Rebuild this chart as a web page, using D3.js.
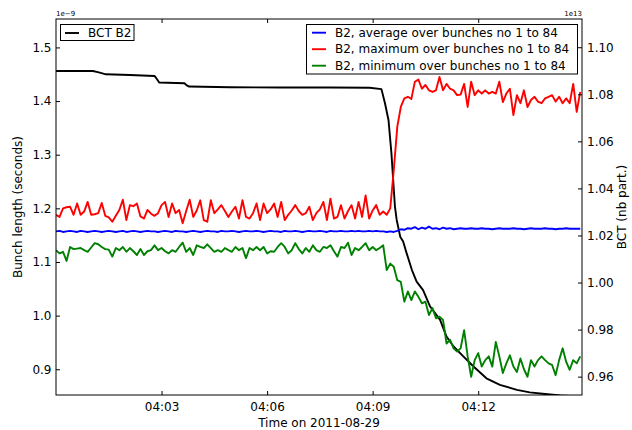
<!DOCTYPE html>
<html><head><meta charset="utf-8">
<script src="https://cdn.jsdelivr.net/npm/d3@7"></script>
<style>body{margin:0;background:#fff} text{font-family:"DejaVu Sans",sans-serif}</style>
</head><body><svg id="c" width="632" height="430"></svg>
<script>
// ---------------- data ----------------
const startTime = "2011-08-29 04:00:00";
const sampleStepSeconds = 6;
const seriesNames = [
  "B2, average over bunches no 1 to 84",
  "B2, maximum over bunches no 1 to 84",
  "B2, minimum over bunches no 1 to 84"
];
const bctName = "BCT B2";
// bunch length values, units of 1e-9 s
const avgValues = [
 1.157,1.158,1.156,1.157,1.158,1.157,1.156,1.158,1.157,1.156,
 1.157,1.158,1.157,1.156,1.157,1.158,1.157,1.156,1.157,1.158,
 1.156,1.157,1.158,1.157,1.156,1.157,1.158,1.157,1.157,1.156,
 1.157,1.158,1.157,1.156,1.158,1.157,1.157,1.156,1.157,1.158,
 1.157,1.156,1.157,1.158,1.157,1.157,1.156,1.158,1.157,1.157,
 1.158,1.157,1.156,1.157,1.158,1.157,1.157,1.158,1.157,1.156,
 1.157,1.158,1.157,1.157,1.156,1.158,1.157,1.157,1.158,1.157,
 1.156,1.157,1.158,1.157,1.157,1.158,1.157,1.156,1.158,1.157,
 1.157,1.158,1.157,1.157,1.158,1.157,1.158,1.157,1.157,1.158,
 1.157,1.158,1.157,1.157,1.156,1.157,1.156,1.158,1.161,1.160,
 1.163,1.162,1.165,1.161,1.164,1.162,1.166,1.162,1.163,1.161,
 1.164,1.162,1.163,1.161,1.162,1.163,1.162,1.162,1.163,1.162,
 1.162,1.163,1.162,1.162,1.161,1.162,1.163,1.162,1.162,1.162,
 1.163,1.162,1.162,1.161,1.162,1.163,1.162,1.162,1.162,1.163,
 1.162,1.162,1.161,1.162,1.162,1.163,1.162,1.162,1.162,1.162
];
const maxValues = [
 1.188,1.184,1.200,1.202,1.203,1.188,1.209,1.188,1.194,1.212,
 1.188,1.189,1.191,1.210,1.186,1.183,1.175,1.186,1.197,1.216,
 1.178,1.206,1.204,1.209,1.185,1.181,1.197,1.190,1.186,1.191,
 1.206,1.212,1.184,1.209,1.191,1.197,1.172,1.195,1.216,1.184,
 1.196,1.215,1.178,1.175,1.215,1.191,1.198,1.206,1.195,1.184,
 1.194,1.203,1.181,1.215,1.184,1.181,1.191,1.209,1.178,1.209,
 1.191,1.198,1.209,1.184,1.212,1.178,1.188,1.196,1.206,1.195,
 1.188,1.191,1.203,1.178,1.191,1.198,1.212,1.178,1.218,1.181,
 1.184,1.206,1.181,1.195,1.206,1.181,1.212,1.184,1.224,1.181,
 1.196,1.206,1.188,1.194,1.188,1.200,1.271,1.352,1.389,1.405,
 1.408,1.404,1.436,1.440,1.423,1.430,1.420,1.417,1.420,1.445,
 1.420,1.432,1.423,1.420,1.411,1.412,1.432,1.389,1.436,1.411,
 1.420,1.414,1.420,1.414,1.417,1.414,1.436,1.398,1.414,1.423,
 1.374,1.411,1.396,1.420,1.389,1.402,1.408,1.399,1.396,1.405,
 1.408,1.411,1.399,1.408,1.396,1.405,1.396,1.432,1.380,1.417
];
const minValues = [
 1.122,1.116,1.119,1.102,1.128,1.124,1.125,1.126,1.122,1.119,
 1.127,1.135,1.133,1.128,1.124,1.123,1.110,1.126,1.122,1.128,
 1.119,1.126,1.120,1.113,1.124,1.113,1.120,1.122,1.131,1.122,
 1.126,1.120,1.116,1.122,1.119,1.128,1.136,1.119,1.126,1.113,
 1.131,1.128,1.126,1.133,1.126,1.119,1.122,1.119,1.126,1.122,
 1.119,1.128,1.122,1.126,1.107,1.126,1.122,1.128,1.122,1.128,
 1.116,1.120,1.119,1.128,1.135,1.128,1.116,1.122,1.135,1.124,
 1.116,1.126,1.119,1.131,1.122,1.119,1.128,1.126,1.131,1.120,
 1.110,1.128,1.126,1.136,1.113,1.126,1.122,1.128,1.135,1.122,
 1.128,1.122,1.126,1.131,1.085,1.097,1.091,1.066,1.063,1.026,
 1.045,1.029,1.045,1.035,1.023,1.026,1.001,1.014,0.995,0.998,
 0.992,0.948,0.955,0.939,0.933,0.939,0.973,0.924,0.886,0.917,
 0.930,0.905,0.917,0.924,0.905,0.951,0.924,0.893,0.911,0.926,
 0.905,0.895,0.920,0.900,0.886,0.917,0.905,0.917,0.924,0.917,
 0.911,0.908,0.889,0.917,0.939,0.914,0.899,0.917,0.911,0.924
];
// BCT intensity, seconds after start and units of 1e13 particles
const bctSeconds = [0,63,73,85,126,168,172,176,219,223,227,297,382,467,535,555,561,567,572,575,578,581,587,592,598,607,615,626,638,655,666,678,695,712,734,757,786,808,834,860,897];
const bctValues  = [1.0899,1.0899,1.0893,1.0885,1.0882,1.0878,1.0865,1.0850,1.0847,1.0838,1.0833,1.0830,1.0829,1.0829,1.0828,1.0822,1.0762,1.0691,1.0550,1.0436,1.0323,1.0266,1.0195,1.0174,1.0124,1.0053,1.0004,0.9968,0.9898,0.9841,0.9770,0.9728,0.9685,0.9643,0.9593,0.9565,0.9544,0.9533,0.9526,0.9520,0.9515];
const xDomainLabels = ["2011-08-29 04:00:00","2011-08-29 04:14:57"];
const xTickLabels = ["04:03","04:06","04:09","04:12"];
const leftTicks = [0.9,1.0,1.1,1.2,1.3,1.4,1.5];
const leftDomain = [0.852,1.553];
const rightTicks = [0.96,0.98,1.00,1.02,1.04,1.06,1.08,1.10];
const rightDomain = [0.9522,1.112];
const colors = ["#0000ff","#ff0000","#008000"];

// ---------------- chart ----------------
const svg = d3.select("#c");
const L=56, T=19, R=582, B=395;
const parse = d3.timeParse("%Y-%m-%d %H:%M:%S");
const t0 = parse(startTime);
const x = d3.scaleTime().domain(xDomainLabels.map(parse)).range([L,R]);
const yL = d3.scaleLinear().domain(leftDomain).range([B,T]);
const yR = d3.scaleLinear().domain(rightDomain).range([B,T]);
const tickDates = xTickLabels.map(s=>parse("2011-08-29 "+s+":00"));
const fmt = d3.timeFormat("%H:%M");
const LW = 1.9;

svg.append("defs").append("clipPath").attr("id","clip")
  .append("rect").attr("x",L).attr("y",T).attr("width",R-L).attr("height",B-T);

const plot = svg.append("g").attr("clip-path","url(#clip)");
const sampleDate = i => new Date(t0.getTime()+i*sampleStepSeconds*1000);

// BCT line (right axis)
const bctLine = d3.line().x((d,i)=>x(new Date(t0.getTime()+bctSeconds[i]*1000))).y(d=>yR(d));
plot.append("path").datum(bctValues).attr("d",bctLine)
  .attr("fill","none").attr("stroke","#000").attr("stroke-width",LW).attr("stroke-linejoin","round");

[avgValues,maxValues,minValues].forEach((vals,k)=>{
  const line = d3.line().x((d,i)=>x(sampleDate(i))).y(d=>yL(d));
  plot.append("path").datum(vals).attr("d",line)
    .attr("fill","none").attr("stroke",colors[k]).attr("stroke-width",LW).attr("stroke-linejoin","round");
});

function styleAxis(g){
  g.select(".domain").remove();
  g.selectAll("text").attr("font-size",12).attr("font-family","DejaVu Sans").attr("fill","#000");
  g.selectAll("line").attr("stroke","#000");
}
svg.append("g").attr("transform",`translate(0,${B})`)
  .call(d3.axisBottom(x).tickValues(tickDates).tickFormat(fmt).tickSize(-4).tickPadding(7)).call(styleAxis);
svg.append("g").attr("transform",`translate(0,${T})`)
  .call(d3.axisTop(x).tickValues(tickDates).tickFormat("").tickSize(-4)).call(styleAxis);
svg.append("g").attr("transform",`translate(${L},0)`)
  .call(d3.axisLeft(yL).tickValues(leftTicks).tickFormat(d3.format(".1f")).tickSize(-4).tickPadding(4.5)).call(styleAxis);
svg.append("g").attr("transform",`translate(${R},0)`)
  .call(d3.axisRight(yR).tickValues(rightTicks).tickFormat(d3.format(".2f")).tickSize(-4).tickPadding(5)).call(styleAxis);

svg.append("rect").attr("x",L).attr("y",T).attr("width",R-L).attr("height",B-T)
  .attr("fill","none").attr("stroke","#000").attr("stroke-width",1);

// offset texts
svg.append("text").attr("x",L).attr("y",16).attr("font-size",7).text("1e\u22129");
svg.append("text").attr("x",R).attr("y",16).attr("font-size",7).attr("text-anchor","end").text("1e13");

// axis titles
svg.append("text").attr("x",(L+R)/2).attr("y",426.5).attr("text-anchor","middle").attr("font-size",12).text("Time on 2011-08-29");
svg.append("text").attr("transform",`translate(21.5,${(T+B)/2}) rotate(-90)`).attr("text-anchor","middle").attr("font-size",12).text("Bunch length (seconds)");
svg.append("text").attr("transform",`translate(626,${(T+B)/2}) rotate(-90)`).attr("text-anchor","middle").attr("font-size",12).text("BCT (nb part.)");

// legends
const lg1 = svg.append("g");
lg1.append("rect").attr("x",60.5).attr("y",24.5).attr("width",73.5).attr("height",16).attr("fill","#fff").attr("stroke","#000");
lg1.append("line").attr("x1",65).attr("x2",79).attr("y1",33).attr("y2",33).attr("stroke","#000").attr("stroke-width",LW);
lg1.append("text").attr("x",88).attr("y",37.3).attr("font-size",12).text(bctName);

const lg2 = svg.append("g");
lg2.append("rect").attr("x",306.5).attr("y",24.5).attr("width",271).attr("height",49.5).attr("fill","#fff").attr("stroke","#000");
seriesNames.forEach((n,k)=>{
  const yy = 32.7 + k*16.5;
  lg2.append("line").attr("x1",312).attr("x2",326).attr("y1",yy).attr("y2",yy).attr("stroke",colors[k]).attr("stroke-width",LW);
  lg2.append("text").attr("x",335).attr("y",yy+4).attr("font-size",12).text(n);
});
</script></body></html>
